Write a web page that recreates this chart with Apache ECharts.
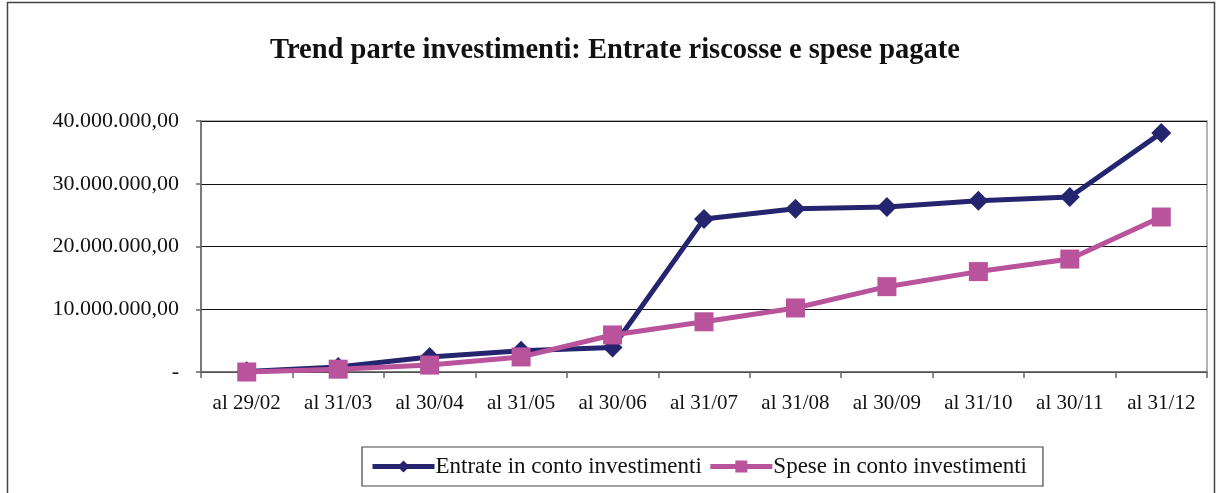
<!DOCTYPE html>
<html><head><meta charset="utf-8">
<script src="https://cdn.jsdelivr.net/npm/echarts@6/dist/echarts.min.js"></script>
<style>html,body{margin:0;padding:0;background:#fff}#c{width:1218px;height:493px}</style>
</head><body><div id="c"></div>
<script>
const categories = ['al 29/02','al 31/03','al 30/04','al 31/05','al 30/06','al 31/07','al 31/08','al 30/09','al 31/10','al 30/11','al 31/12'];
const entrate = [100000, 800000, 2400000, 3400000, 3900000, 24400000, 26000000, 26300000, 27300000, 27900000, 38100000];
const spese = [0, 450000, 1100000, 2400000, 5900000, 8000000, 10200000, 13600000, 16000000, 18000000, 24700000];
const seriesNames = ['Entrate in conto investimenti', 'Spese in conto investimenti'];
const titleText = 'Trend parte investimenti: Entrate riscosse e spese pagate';

const font = 'Liberation Serif, DejaVu Serif, serif';
function fmt(v){
  if (v === 0) return '-';
  const s = Math.round(v).toString().replace(/\B(?=(\d{3})+(?!\d))/g, '.');
  return s + ',00';
}
const chart = echarts.init(document.getElementById('c'));
chart.setOption({
  animation: false,
  backgroundColor: '#fff',
  title: { text: titleText, left: 610, textAlign: 'center', top: 31,
    textStyle: { fontFamily: font, fontSize: 28.5, fontWeight: 'bold', color: '#111' } },
  graphic: [
    { type: 'rect', shape: { x: 7.5, y: 2.5, width: 1207, height: 500 }, style: { fill: 'none', stroke: '#444', lineWidth: 1.5 }, silent: true }
  ],
  grid: { left: 201, right: 11, top: 121, bottom: 121, show: true, borderColor: '#999', borderWidth: 1.5 },
  legend: {
    data: seriesNames, left: 362, top: 447,
    padding: [8, 16, 8, 8], itemGap: 6, itemWidth: 62, itemHeight: 15,
    borderColor: '#444', borderWidth: 1.2,
    lineStyle: { width: 5 },
    textStyle: { fontFamily: font, fontSize: 23, color: '#111', padding: [0,0,0,-4] }
  },
  xAxis: {
    type: 'category', data: categories, boundaryGap: true,
    axisLine: { lineStyle: { color: '#666', width: 1.5 } },
    axisTick: { show: true, inside: false, interval: 0, length: 6, lineStyle: { color: '#666', width: 1.5 } },
    axisLabel: { fontFamily: font, fontSize: 21, color: '#111', margin: 21, interval: 0 }
  },
  yAxis: {
    type: 'value', min: 0, max: 40000000, interval: 10000000,
    axisLine: { show: true, lineStyle: { color: '#666', width: 1.5 } },
    axisTick: { show: true, length: 5, lineStyle: { color: '#666', width: 1.5 } },
    axisLabel: { fontFamily: font, fontSize: 22, color: '#111', margin: 22, formatter: fmt },
    splitLine: { show: true, lineStyle: { color: '#111', width: 1 } }
  },
  series: [
    { name: seriesNames[0], type: 'line', data: entrate, symbol: 'diamond', symbolSize: 20,
      lineStyle: { color: '#25256f', width: 5 }, itemStyle: { color: '#25256f' }, z: 2 },
    { name: seriesNames[1], type: 'line', data: spese, symbol: 'rect', symbolSize: 19,
      lineStyle: { color: '#b8539c', width: 5 }, itemStyle: { color: '#b8539c' }, z: 3 }
  ]
});
</script></body></html>
